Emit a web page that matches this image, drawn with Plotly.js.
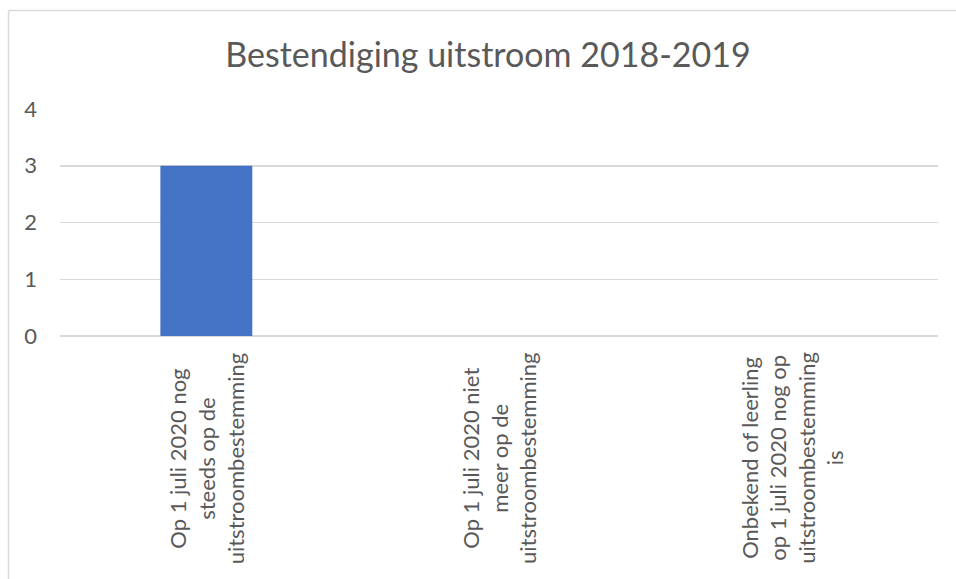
<!DOCTYPE html>
<html>
<head>
<meta charset="utf-8">
<script src="https://cdn.plot.ly/plotly-3.0.1.min.js"></script>
<style>html,body{margin:0;padding:0;background:#fff;}#chart{width:956px;height:579px;}</style>
</head>
<body>
<div id="chart"></div>
<script>
const chartTitle = "Bestendiging uitstroom 2018-2019";
const categories = ["cat1", "cat2", "cat3"];
const categoryLabels = [
  "Op 1 juli 2020 nog<br>steeds op de<br>uitstroombestemming",
  "Op 1 juli 2020 niet<br>meer op de<br>uitstroombestemming",
  "Onbekend of leerling<br>op 1 juli 2020 nog op<br>uitstroombestemming<br>is"
];
const values = [3, 0, 0];
const yTicks = [0, 1, 2, 3, 4];

const W = 956, H = 579;
const mL = 60, mR = 18, mT = 109, mB = 243;
const plotW = W - mL - mR, plotH = H - mT - mB;
const px2x = p => (p - mL) / plotW;
const py2y = p => (H - mB - p) / plotH;

const fontFam = "Lato, 'Open Sans', sans-serif";
const grey = "#595959";

const trace = {
  type: "bar",
  x: categories,
  y: values,
  marker: {color: "#4472C4"},
  hoverinfo: "none"
};

const annotations = categories.map((c, i) => ({
  x: c, xref: "x",
  y: 0, yref: "paper",
  yanchor: "top", xanchor: "center",
  yshift: -14,
  textangle: -90,
  align: "center",
  showarrow: false,
  text: categoryLabels[i],
  font: {family: fontFam, size: 22, color: grey}
}));

const layout = {
  width: W, height: H,
  margin: {l: mL, r: mR, t: mT, b: mB, pad: 0},
  paper_bgcolor: "#fff",
  plot_bgcolor: "#fff",
  showlegend: false,
  bargap: 0.686,
  title: {
    text: chartTitle,
    xref: "container", x: 488 / W, xanchor: "center",
    yref: "container", y: 1 - 55 / H, yanchor: "middle",
    font: {family: fontFam, size: 34, color: grey}
  },
  xaxis: {
    type: "category",
    showticklabels: false,
    showgrid: false,
    zeroline: false,
    showline: false,
    ticks: ""
  },
  yaxis: {
    range: [0, 4],
    tickvals: yTicks,
    ticktext: yTicks.map(String),
    showgrid: true,
    gridcolor: "#d9d9d9",
    gridwidth: 1.5,
    zeroline: true,
    zerolinecolor: "#d9d9d9",
    zerolinewidth: 1.5,
    showline: false,
    ticks: "",
    ticklabelstandoff: 22,
    tickfont: {family: fontFam, size: 22, color: grey}
  },
  annotations: annotations,
  shapes: [
    {type: "line", xref: "paper", yref: "paper",
     x0: px2x(8.5), x1: px2x(8.5), y0: py2y(10.5), y1: py2y(600),
     line: {color: "#d9d9d9", width: 1.5}},
    {type: "line", xref: "paper", yref: "paper",
     x0: px2x(8.5), x1: px2x(970), y0: py2y(10.5), y1: py2y(10.5),
     line: {color: "#d9d9d9", width: 1.5}}
  ]
};

Plotly.newPlot("chart", [trace], layout, {displayModeBar: false, staticPlot: true});
</script>
</body>
</html>
